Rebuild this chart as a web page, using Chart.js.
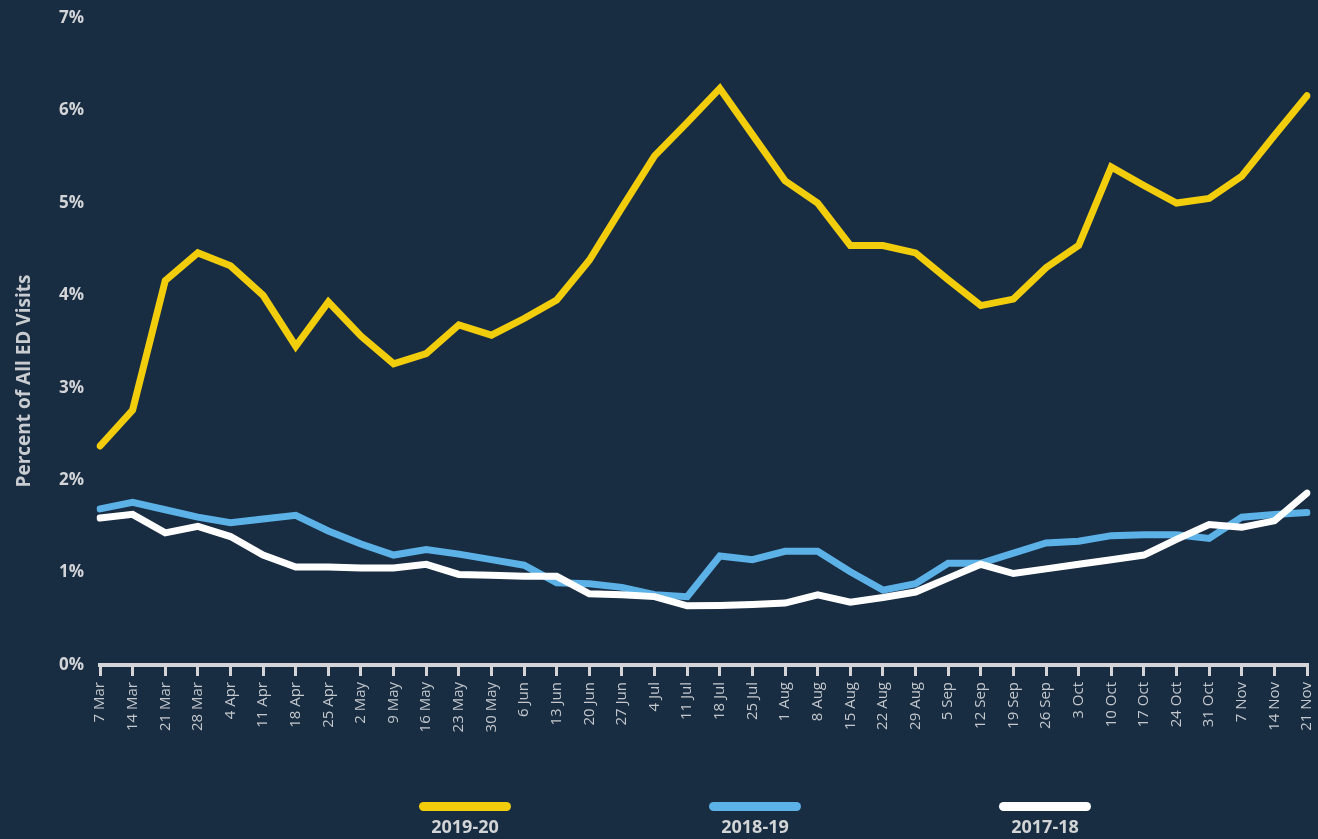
<!DOCTYPE html>
<html>
<head>
<meta charset="utf-8">
<script src="https://cdn.jsdelivr.net/npm/chart.js@4"></script>
<style>
  html, body { margin: 0; padding: 0; background: #182c42; }
  #wrap { position: relative; width: 1318px; height: 839px; }
  #legend .item { position: absolute; top: 802px; width: 140px; margin-left: -70px; text-align: center;
    font: 700 18px "Open Sans", sans-serif; color: #d2d4d6; line-height: 22px; }
  #legend .line { width: 92px; height: 9px; border-radius: 5px; margin: 0 auto 4px auto; }
</style>
</head>
<body>
<div id="wrap">
  <canvas id="myChart" width="1318" height="839"></canvas>
  <div id="legend"></div>
</div>
<script>
const weeks = ['7 Mar','14 Mar','21 Mar','28 Mar','4 Apr','11 Apr','18 Apr','25 Apr','2 May','9 May',
  '16 May','23 May','30 May','6 Jun','13 Jun','20 Jun','27 Jun','4 Jul','11 Jul','18 Jul',
  '25 Jul','1 Aug','8 Aug','15 Aug','22 Aug','29 Aug','5 Sep','12 Sep','19 Sep','26 Sep',
  '3 Oct','10 Oct','17 Oct','24 Oct','31 Oct','7 Nov','14 Nov','21 Nov'];

const season2019 = [2.37,2.76,4.16,4.46,4.32,4.0,3.45,3.93,3.56,3.26,
  3.37,3.68,3.57,3.75,3.95,4.38,4.95,5.51,5.87,6.24,
  5.74,5.24,5.0,4.54,4.54,4.46,4.17,3.89,3.96,4.3,
  4.54,5.39,5.19,5.0,5.05,5.29,5.73,6.16];
const season2018 = [1.69,1.76,1.68,1.60,1.54,1.58,1.62,1.45,1.31,1.19,
  1.25,1.20,1.14,1.08,0.89,0.88,0.84,0.76,0.74,1.18,
  1.14,1.23,1.23,1.01,0.81,0.88,1.10,1.10,1.21,1.32,
  1.34,1.40,1.41,1.41,1.37,1.60,1.63,1.65];
const season2017 = [1.59,1.63,1.43,1.50,1.39,1.19,1.06,1.06,1.05,1.05,
  1.09,0.98,0.97,0.96,0.96,0.77,0.76,0.74,0.64,0.645,
  0.655,0.67,0.76,0.68,0.73,0.79,0.94,1.09,0.99,1.04,
  1.09,1.14,1.19,1.36,1.52,1.49,1.56,1.86];

const seasonNames = ['2019-20', '2018-19', '2017-18'];
const seasonColors = ['#f2cd0c', '#5cb1e6', '#ffffff'];
const yTicks = [0, 1, 2, 3, 4, 5, 6, 7];
const yTitle = 'Percent of All ED Visits';

// axis title drawn by hand so it can sit a bit below the middle like the original
const yTitlePlugin = {
  id: 'yTitle',
  afterDraw(chart) {
    const ctx = chart.ctx;
    ctx.save();
    ctx.translate(25, 381);
    ctx.rotate(-Math.PI / 2);
    ctx.font = '700 19px "Open Sans", sans-serif';
    ctx.fillStyle = '#c9ccd0';
    ctx.textAlign = 'center';
    ctx.textBaseline = 'middle';
    ctx.fillText(yTitle, 0, 0);
    ctx.restore();
  }
};

const series = [season2019, season2018, season2017];
const drawOrder = [0, 2, 1];

const ctx = document.getElementById('myChart').getContext('2d');
const myChart = new Chart(ctx, {
  type: 'line',
  data: {
    labels: weeks,
    datasets: series.map((vals, i) => ({
      label: seasonNames[i],
      data: vals,
      borderColor: seasonColors[i],
      borderWidth: 7,
      borderCapStyle: 'round',
      pointRadius: 0,
      tension: 0,
      order: drawOrder[i]
    }))
  },
  options: {
    responsive: false,
    animation: false,
    layout: { padding: { top: 14, right: 11, left: 0, bottom: 0 } },
    plugins: { legend: { display: false }, tooltip: { enabled: false } },
    scales: {
      x: {
        offset: false,
        grid: { display: true, drawOnChartArea: false, drawTicks: true, tickLength: 11, color: '#d3d5d8', lineWidth: 3 },
        border: { display: true, color: '#d3d5d8', width: 4 },
        ticks: {
          autoSkip: false, minRotation: 90, maxRotation: 90, padding: 6,
          color: '#c4c8cc', font: { family: 'Open Sans', size: 15 }
        },
        afterFit(scale) {
          scale.height = 839 - 665;
          scale.paddingLeft = 0;
          scale.paddingRight = 0;
        }
      },
      y: {
        min: 0, max: 7,
        grid: { display: false },
        border: { display: false },
        afterBuildTicks(scale) { scale.ticks = yTicks.map(v => ({ value: v })); },
        ticks: {
          padding: 8,
          color: '#d2d4d7',
          font: { family: 'Open Sans', size: 17, weight: 'bold' },
          callback: v => v + '%'
        },
        afterFit(scale) { scale.width = 100; }
      }
    }
  },
  plugins: [yTitlePlugin]
});

// legend under the chart, line swatch above the text
const legendBox = document.getElementById('legend');
const legendX = [465, 755, 1045];
seasonNames.forEach((name, i) => {
  const item = document.createElement('div');
  item.className = 'item';
  item.style.left = legendX[i] + 'px';
  item.innerHTML = `<div class="line" style="background:${seasonColors[i]}"></div>${name}`;
  legendBox.appendChild(item);
});
</script>
</body>
</html>
